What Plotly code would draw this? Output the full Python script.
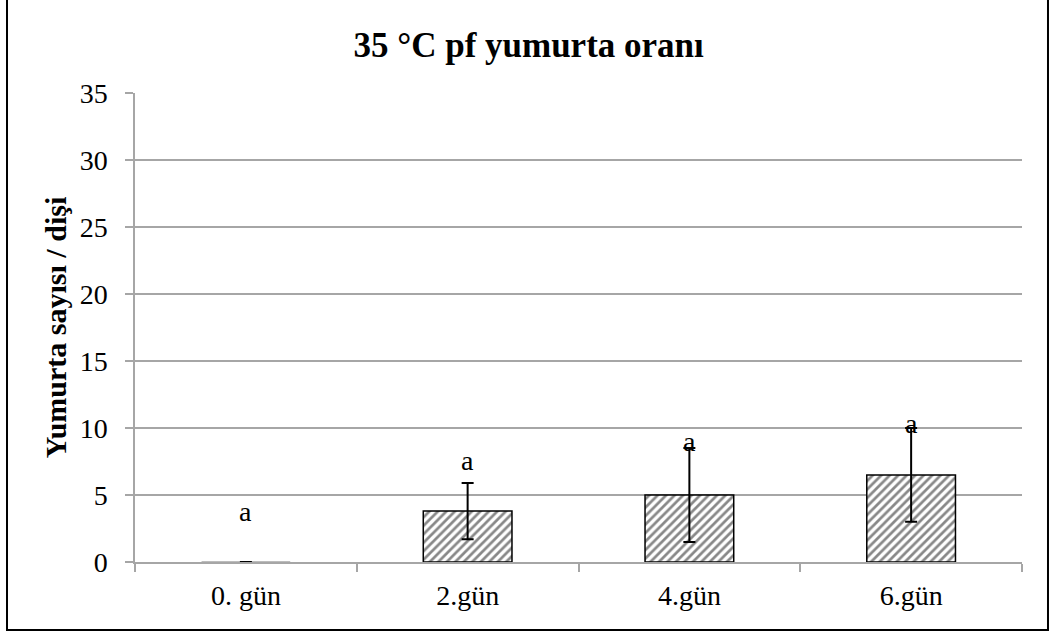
import plotly.graph_objects as go

categories = ["0. gün", "2.gün", "4.gün", "6.gün"]
means = [0.0, 3.8, 5.0, 6.5]
errors = [0.0, 2.1, 3.5, 3.5]
letters = ["a", "a", "a", "a"]
letter_y = [3.8, 7.6, 9.0, 10.3]
y_ticks = [0, 5, 10, 15, 20, 25, 30, 35]

FONT = "Liberation Serif"
GRID = "#a6a6a6"

fig = go.Figure()
fig.add_trace(go.Bar(
    x=categories, y=means, width=0.4,
    marker=dict(color="white",
                line=dict(color=[GRID if m == 0 else "black" for m in means], width=1.5),
                pattern=dict(shape="/", fgcolor="#111111", bgcolor="white", size=6, solidity=0.45)),
    error_y=dict(type="data", array=errors, visible=True, color="black", thickness=2, width=6),
    showlegend=False, hoverinfo="skip",
))

for c, l, y in zip(categories, letters, letter_y):
    fig.add_annotation(x=c, y=y, text=l, showarrow=False,
                       font=dict(family=FONT, size=28, color="black"), yanchor="middle")

fig.add_shape(type="rect", xref="paper", yref="paper", x0=-0.1443, x1=1.0293, y0=-0.145, y1=1.25,
              line=dict(color="black", width=2), fillcolor="rgba(0,0,0,0)", layer="below")

fig.update_layout(
    width=1053, height=637,
    margin=dict(l=135, r=31, t=93, b=75),
    paper_bgcolor="white", plot_bgcolor="white",
    title=dict(text="<b>35 °C pf yumurta oranı</b>", x=0.502, xanchor="center", y=1 - 45 / 637, yanchor="middle",
               xref="container", yref="container", font=dict(family=FONT, size=35, color="black")),
    font=dict(family=FONT, color="black"),
    bargap=0.6,
)
fig.update_xaxes(
    showline=True, linecolor=GRID, linewidth=1.5,
    ticks="outside", ticklen=8, tickcolor=GRID, tickwidth=1.5, tickson="boundaries",
    ticklabelstandoff=8,
    tickfont=dict(family=FONT, size=28, color="black"), showgrid=False,
)
fig.update_yaxes(
    range=[0, 35], tickvals=y_ticks, showgrid=True, gridcolor=GRID, gridwidth=1.5,
    showline=True, linecolor=GRID, linewidth=1.5,
    ticks="outside", ticklen=8, tickcolor=GRID, tickwidth=1.5,
    ticklabelstandoff=12,
    tickfont=dict(family=FONT, size=28, color="black"), zeroline=False,
    title=dict(text="<b>Yumurta sayısı / dişi</b>", font=dict(family=FONT, size=30, color="black"), standoff=4),
)

fig.write_html("out.html", config={"displayModeBar": False},
               post_script="document.body.style.margin='0';")
